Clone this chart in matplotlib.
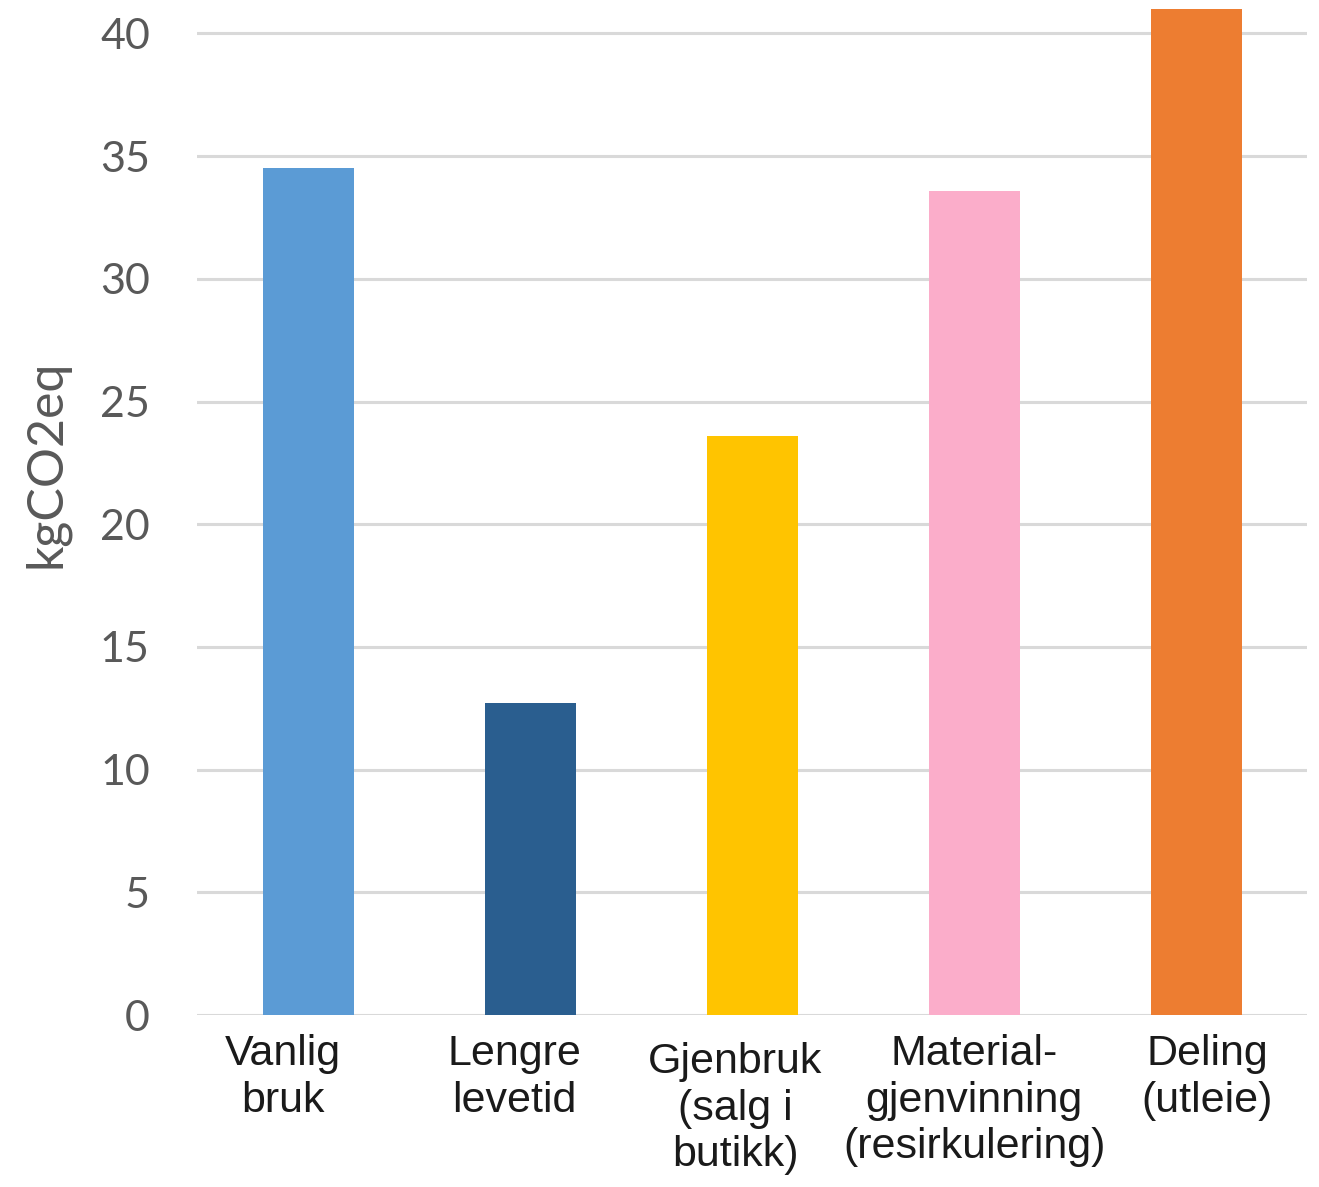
import matplotlib
matplotlib.use("Agg")
import matplotlib.pyplot as plt
from matplotlib.transforms import ScaledTranslation

categories = ["Vanlig\nbruk", "Lengre\nlevetid", "Gjenbruk\n(salg i\nbutikk)",
              "Material-\ngjenvinning\n(resirkulering)", "Deling\n(utleie)"]
values = [34.5, 12.7, 23.6, 33.6, 41.0]
colors = ["#5B9BD5", "#2A5E8F", "#FFC400", "#FBADCA", "#ED7D31"]
yticks = [0, 5, 10, 15, 20, 25, 30, 35, 40]

fig = plt.figure(figsize=(13.19, 11.87), dpi=100)
ax = fig.add_axes([0.1494, 0.1449, 0.8416, 0.8517])

x = list(range(len(categories)))
ax.bar(x, values, width=0.41, color=colors, zorder=3)

ax.set_xlim(-0.5, len(categories) - 0.5)
ax.set_ylim(0, 41.2)
ax.set_yticks(yticks)
ax.set_yticklabels([str(v) for v in yticks], family="Lato", fontsize=31, color="#595959")
ax.yaxis.grid(True, color="#D9D9D9", linewidth=2.2, zorder=0)
ax.set_axisbelow(True)
for s in ax.spines.values():
    s.set_visible(False)
ax.tick_params(axis="y", length=0, pad=34)
ax.tick_params(axis="x", length=0, pad=14)

ax.set_xticks(x)
labels = ax.set_xticklabels(categories, family="Liberation Sans", fontsize=31,
                            color="#1a1a1a", linespacing=1.2)
offsets = [(-25, 0), (-16, 0), (-17, -8), (0, 0), (11, 0)]
for lab, (dx, dy) in zip(labels, offsets):
    lab.set_transform(lab.get_transform() + ScaledTranslation(dx / 100, dy / 100, fig.dpi_scale_trans))

ax.set_ylabel("kgCO2eq", family="Lato", fontsize=36, color="#595959")
ax.yaxis.set_label_coords(-0.115, 0.545)

fig.savefig("out.png", dpi=100)
